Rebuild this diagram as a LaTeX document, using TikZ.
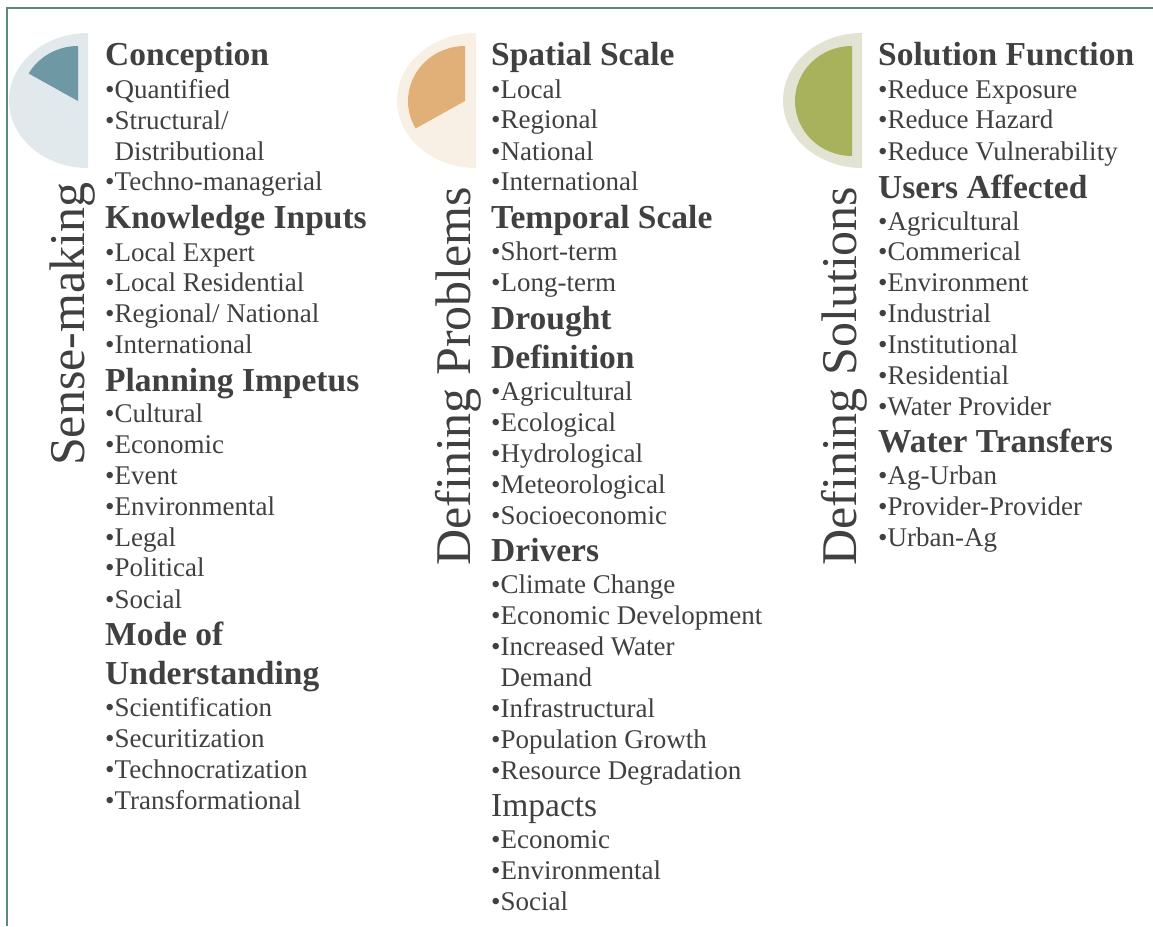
\documentclass[tikz,border=0pt]{standalone}
\usepackage{fontspec}
\setmainfont{Liberation Serif}
\usepackage{tikz}

\definecolor{framegreen}{RGB}{91,137,124}
\definecolor{txt}{RGB}{64,64,64}
\definecolor{senselight}{RGB}{226,233,237}
\definecolor{sensedark}{RGB}{110,152,164}
\definecolor{problight}{RGB}{249,240,229}
\definecolor{probdark}{RGB}{224,176,120}
\definecolor{sollight}{RGB}{226,227,211}
\definecolor{soldark}{RGB}{168,178,92}

\begin{document}
\begin{tikzpicture}[x=1pt, y=1pt,
    head/.style={anchor=base west, inner sep=0pt, text=txt, font=\fontsize{33.5}{33.5}\selectfont\bfseries},
    headplain/.style={anchor=base west, inner sep=0pt, text=txt, font=\fontsize{33.5}{33.5}\selectfont},
    item/.style={anchor=base west, inner sep=0pt, text=txt, font=\fontsize{27}{27}\selectfont},
    side/.style={anchor=base west, inner sep=0pt, rotate=90, text=txt, font=\fontsize{50}{50}\selectfont}]
    \useasboundingbox (0,0) rectangle (1153,-926);

    % frame (top and left edge only)
    \draw[framegreen, line width=2.2pt] (7,-926) -- (7,-8) -- (1153,-8);

    % half-disc markers
    \fill[senselight] (88,-33) arc[start angle=90, end angle=270, x radius=79, y radius=67.5] -- cycle;
    \fill[sensedark] (78,-101) -- (78,-46) arc[start angle=90, end angle=150, x radius=57, y radius=55] -- cycle;

    \fill[problight] (476,-33) arc[start angle=90, end angle=270, x radius=79, y radius=67.5] -- cycle;
    \fill[probdark] (465,-101) -- (465,-46) arc[start angle=90, end angle=210, x radius=57, y radius=55] -- cycle;

    \fill[sollight] (862,-33) arc[start angle=90, end angle=270, x radius=79, y radius=67.5] -- cycle;
    \fill[soldark] (852,-101) -- (852,-46) arc[start angle=90, end angle=270, x radius=57, y radius=55] -- cycle;

    % column titles
    \node[side] (sense) at (84,-466) {Sense-making};
    \node[side] (problems) at (470,-566) {Defining Problems};
    \node[side] (solutions) at (856,-566) {Defining Solutions};

    % Sense-making
    \foreach \y/\t [count=\i] in {65/Conception, 228/Knowledge Inputs, 391/Planning Impetus, 645/Mode of, 684/Understanding}
        \node[head] (sh\i) at (105,-\y) {\t};
    \foreach \y/\t [count=\i] in {98/Quantified, 129/{Structural/}, 190/Techno-managerial,
        261/Local Expert, 291/Local Residential, 322/{Regional/ National}, 353/International,
        422/Cultural, 453/Economic, 484/Event, 515/Environmental, 546/Legal, 576/Political, 608/Social,
        716/Scientification, 747/Securitization, 778/Technocratization, 809/Transformational}
        \node[item] (si\i) at (105,-\y) {•\t};
    \node[item] (sc1) at (105,-160) {\phantom{•}Distributional};

    % Defining Problems
    \foreach \y/\t [count=\i] in {65/Spatial Scale, 228/Temporal Scale, 329/Drought, 368/Definition, 561/Drivers}
        \node[head] (ph\i) at (491,-\y) {\t};
    \node[headplain] (ph6) at (491,-816) {Impacts};
    \foreach \y/\t [count=\i] in {98/Local, 128/Regional, 160/National, 190/International,
        260/Short-term, 291/Long-term,
        400/Agricultural, 431/Ecological, 462/Hydrological, 493/Meteorological, 524/Socioeconomic,
        593/Climate Change, 624/Economic Development, 655/Increased Water, 717/Infrastructural,
        748/Population Growth, 779/Resource Degradation,
        848/Economic, 879/Environmental, 910/Social}
        \node[item] (pi\i) at (491,-\y) {•\t};
    \node[item] (pc1) at (491,-686) {\phantom{•}Demand};

    % Defining Solutions
    \foreach \y/\t [count=\i] in {65/Solution Function, 198/Users Affected, 452/Water Transfers}
        \node[head] (oh\i) at (878,-\y) {\t};
    \foreach \y/\t [count=\i] in {98/Reduce Exposure, 128/Reduce Hazard, 160/Reduce Vulnerability,
        230/Agricultural, 260/Commerical, 291/Environment, 322/Industrial, 353/Institutional,
        384/Residential, 415/Water Provider,
        484/Ag-Urban, 515/Provider-Provider, 546/Urban-Ag}
        \node[item] (oi\i) at (878,-\y) {•\t};
\end{tikzpicture}
\end{document}
